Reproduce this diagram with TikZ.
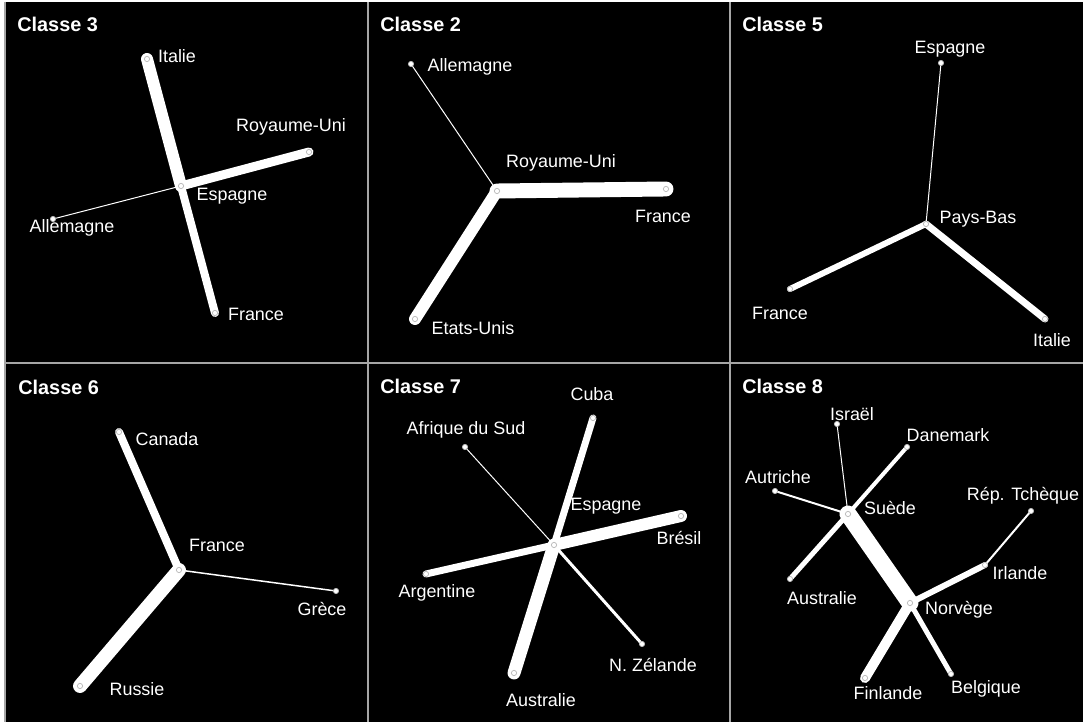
\documentclass[tikz,border=0pt]{standalone}
\usepackage{fontspec}
\setmainfont{Liberation Sans}
\usetikzlibrary{backgrounds}

\begin{document}
\begin{tikzpicture}[x=0.02cm, y=-0.02cm,
  pt/.style={circle, fill=white, draw=gray!55, line width=0.4pt,
             minimum size=3pt, inner sep=0pt},
  lab/.style={text=white, inner sep=0pt,
              font=\fontsize{10.2}{12}\selectfont},
  classe/.style={text=white, anchor=west, inner sep=0pt,
                 font=\fontsize{11.3}{13}\selectfont\bfseries},
  lw/.style={white, line cap=round, line width=#1*0.567pt}]
\useasboundingbox (0,0) rectangle (1083,722);

% Classe 3
\node[classe] (t3) at (17,24) {Classe 3};
\node[pt] (c3es) at (181,186) {};
\node[pt] (c3it) at (147,59) {};
\node[pt] (c3ru) at (309,152) {};
\node[pt] (c3fr) at (215,313) {};
\node[pt] (c3al) at (53,219) {};
\node[lab] (c3es-l) at (232,196) {Espagne};
\node[lab] (c3it-l) at (177,56) {Italie};
\node[lab] (c3ru-l) at (291,127) {Royaume-Uni};
\node[lab] (c3fr-l) at (256,314) {France};
\node[lab] (c3al-l) at (72,228) {Allemagne};

% Classe 2
\node[classe] (t2) at (380,24) {Classe 2};
\node[pt] (c2ru) at (497,191) {};
\node[pt] (c2al) at (411,64) {};
\node[pt] (c2fr) at (666,189) {};
\node[pt] (c2eu) at (415,319) {};
\node[lab] (c2ru-l) at (561,163) {Royaume-Uni};
\node[lab] (c2al-l) at (470,67) {Allemagne};
\node[lab] (c2fr-l) at (663,216) {France};
\node[lab] (c2eu-l) at (473,328) {Etats-Unis};

% Classe 5
\node[classe] (t5) at (742,24) {Classe 5};
\node[pt] (c5pb) at (926,224) {};
\node[pt] (c5es) at (941,63) {};
\node[pt] (c5fr) at (790,289) {};
\node[pt] (c5it) at (1045,319) {};
\node[lab] (c5pb-l) at (978,219) {Pays-Bas};
\node[lab] (c5es-l) at (950,49) {Espagne};
\node[lab] (c5fr-l) at (780,313) {France};
\node[lab] (c5it-l) at (1052,340) {Italie};

% Classe 6
\node[classe] (t6) at (18,387) {Classe 6};
\node[pt] (c6fr) at (179,570) {};
\node[pt] (c6ca) at (119,432) {};
\node[pt] (c6gr) at (336,591) {};
\node[pt] (c6ru) at (80,686) {};
\node[lab] (c6fr-l) at (217,545) {France};
\node[lab] (c6ca-l) at (167,439) {Canada};
\node[lab] (c6gr-l) at (322,609) {Grèce};
\node[lab] (c6ru-l) at (137,689) {Russie};

% Classe 7
\node[classe] (t7) at (380,386) {Classe 7};
\node[pt] (c7es) at (554,545) {};
\node[pt] (c7cu) at (593,418) {};
\node[pt] (c7as) at (465,447) {};
\node[pt] (c7br) at (681,516) {};
\node[pt] (c7ar) at (426,574) {};
\node[pt] (c7nz) at (642,644) {};
\node[pt] (c7au) at (514,673) {};
\node[lab] (c7es-l) at (606,506) {Espagne};
\node[lab] (c7cu-l) at (592,394) {Cuba};
\node[lab] (c7as-l) at (466,430) {Afrique du Sud};
\node[lab] (c7br-l) at (679,538) {Brésil};
\node[lab] (c7ar-l) at (437,593) {Argentine};
\node[lab] (c7nz-l) at (653,665) {N. Zélande};
\node[lab] (c7au-l) at (541,700) {Australie};

% Classe 8
\node[classe] (t8) at (742,386) {Classe 8};
\node[pt] (c8su) at (848,514) {};
\node[pt] (c8no) at (910,603) {};
\node[pt] (c8is) at (837,424) {};
\node[pt] (c8da) at (907,447) {};
\node[pt] (c8at) at (775,491) {};
\node[pt] (c8au) at (790,579) {};
\node[pt] (c8rt) at (1031,511) {};
\node[pt] (c8ir) at (985,565) {};
\node[pt] (c8fi) at (865,678) {};
\node[pt] (c8be) at (951,674) {};
\node[lab] (c8su-l) at (890,508) {Suède};
\node[lab] (c8no-l) at (959,610) {Norvège};
\node[lab] (c8is-l) at (852,414) {Israël};
\node[lab] (c8da-l) at (948,435) {Danemark};
\node[lab] (c8at-l) at (778,477) {Autriche};
\node[lab] (c8au-l) at (822,598) {Australie};
\node[lab] (c8rt-l) at (1023,496) {Rép. Tchèque};
\node[lab] (c8ir-l) at (1020,573) {Irlande};
\node[lab] (c8fi-l) at (888,693) {Finlande};
\node[lab] (c8be-l) at (986,689) {Belgique};

\begin{scope}[on background layer]
\fill[black] (5,2) rectangle (1083,722);
\foreach \x in {368,730}
  \draw[gray!70, line width=0.6pt] (\x,2) -- (\x,722);
\draw[gray!70, line width=0.6pt] (5,363) -- (1083,363);
\draw[gray!70, line width=0.6pt] (5,2) -- (5,722);
% edges
\draw[lw=12] (c3es.center) -- (c3it.center);
\draw[lw=9] (c3es.center) -- (c3ru.center);
\draw[lw=8] (c3es.center) -- (c3fr.center);
\draw[lw=1] (c3es.center) -- (c3al.center);
\draw[lw=15] (c2ru.center) -- (c2fr.center);
\draw[lw=12] (c2ru.center) -- (c2eu.center);
\draw[lw=1] (c2ru.center) -- (c2al.center);
\draw[lw=6] (c5pb.center) -- (c5fr.center);
\draw[lw=7] (c5pb.center) -- (c5it.center);
\draw[lw=1] (c5pb.center) -- (c5es.center);
\draw[lw=8] (c6fr.center) -- (c6ca.center);
\draw[lw=14] (c6fr.center) -- (c6ru.center);
\draw[lw=1.5] (c6fr.center) -- (c6gr.center);
\draw[lw=7] (c7es.center) -- (c7cu.center);
\draw[lw=12] (c7es.center) -- (c7br.center);
\draw[lw=7] (c7es.center) -- (c7ar.center);
\draw[lw=13] (c7es.center) -- (c7au.center);
\draw[lw=1] (c7es.center) -- (c7as.center);
\draw[lw=3] (c7es.center) -- (c7nz.center);
\draw[lw=17] (c8su.center) -- (c8no.center);
\draw[lw=1] (c8su.center) -- (c8is.center);
\draw[lw=4] (c8su.center) -- (c8da.center);
\draw[lw=2] (c8su.center) -- (c8at.center);
\draw[lw=5] (c8su.center) -- (c8au.center);
\draw[lw=6] (c8no.center) -- (c8ir.center);
\draw[lw=2] (c8ir.center) -- (c8rt.center);
\draw[lw=10] (c8no.center) -- (c8fi.center);
\draw[lw=5] (c8no.center) -- (c8be.center);
\end{scope}
\end{tikzpicture}
\end{document}
